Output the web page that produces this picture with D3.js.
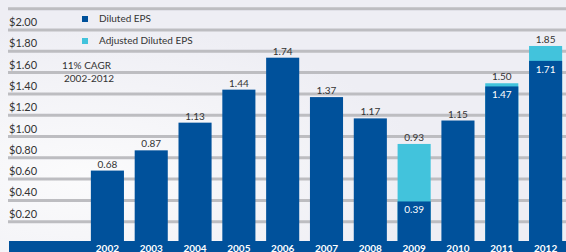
<!DOCTYPE html>
<html><head><meta charset="utf-8">
<script src="https://cdn.jsdelivr.net/npm/d3@7"></script>
<style>html,body{margin:0;padding:0;background:#efeff4;}svg{display:block;}</style>
</head><body><svg id="c" width="566" height="252"></svg>
<script>
const years = ["2002","2003","2004","2005","2006","2007","2008","2009","2010","2011","2012"];
const diluted = [0.68,0.87,1.13,1.44,1.74,1.37,1.17,0.39,1.15,1.47,1.71];
const adjusted = [null,null,null,null,null,null,null,0.93,null,1.50,1.85];
const yTicks = [0.2,0.4,0.6,0.8,1.0,1.2,1.4,1.6,1.8,2.0];
const gridVals = [0.2,0.4,0.6,0.8,1.0,1.2,1.4,1.6,1.8,2.0,2.2];
const legendLabels = ["Diluted EPS","Adjusted Diluted EPS"];
const noteLines = ["11% CAGR","2002-2012"];

const DARK="#00519b", CYAN="#42c3dc", FONT="'Lato','Open Sans',sans-serif";
const svg=d3.select("#c");
const defs=svg.append("defs");
const g1=defs.append("radialGradient").attr("id","bg").attr("cx","0.15").attr("cy","0.7").attr("r","0.6");
g1.append("stop").attr("offset","0").attr("stop-color","#fbfbfc");
g1.append("stop").attr("offset","1").attr("stop-color","#eeeef4");
svg.append("rect").attr("width",566).attr("height",252).attr("fill","url(#bg)");

const y=d3.scaleLinear().domain([0,2]).range([243,30]);
const x=d3.scaleBand().domain(years).range([85.5,567.5]).paddingInner(0.245).paddingOuter(0.1225);

svg.append("g").selectAll("line").data(gridVals).join("line")
 .attr("x1",8).attr("x2",566).attr("y1",d=>y(d)).attr("y2",d=>y(d))
 .attr("stroke","#bdbdc1").attr("stroke-width",3);

svg.append("g").selectAll("text").data(yTicks).join("text")
 .attr("x",9).attr("y",d=>y(d)-4).attr("font-family",FONT).attr("font-size",11).attr("fill","#333")
 .text(d=>"$"+d.toFixed(2));

// adjusted bars
const idx=years.map((d,i)=>i);
svg.append("g").selectAll("rect").data(idx.filter(i=>adjusted[i]!=null)).join("rect")
 .attr("x",i=>x(years[i])).attr("width",x.bandwidth())
 .attr("y",i=>y(adjusted[i])).attr("height",i=>y(0)-y(adjusted[i])).attr("fill",CYAN);
svg.append("g").selectAll("rect").data(idx).join("rect")
 .attr("x",i=>x(years[i])).attr("width",x.bandwidth())
 .attr("y",i=>y(diluted[i])).attr("height",i=>y(0)-y(diluted[i])).attr("fill",DARK);

// top labels
svg.append("g").selectAll("text").data(idx).join("text")
 .attr("x",i=>x(years[i])+x.bandwidth()/2)
 .attr("y",i=>y(adjusted[i]!=null?adjusted[i]:diluted[i])-3)
 .attr("text-anchor","middle").attr("font-family",FONT).attr("font-size",10).attr("fill","#333")
 .text(i=>(adjusted[i]!=null?adjusted[i]:diluted[i]).toFixed(2));
svg.append("g").selectAll("text").data(idx.filter(i=>adjusted[i]!=null)).join("text")
 .attr("x",i=>x(years[i])+x.bandwidth()/2).attr("y",i=>y(diluted[i])+12)
 .attr("text-anchor","middle").attr("font-family",FONT).attr("font-size",10).attr("fill","#fff")
 .text(i=>diluted[i].toFixed(2));

// bottom band
svg.append("rect").attr("x",9).attr("y",241).attr("width",557).attr("height",11).attr("fill",DARK);
svg.append("g").selectAll("text").data(years).join("text")
 .attr("x",d=>x(d)+x.bandwidth()/2).attr("y",251.5).attr("text-anchor","middle")
 .attr("font-family",FONT).attr("font-size",10).attr("font-weight","bold").attr("fill","#fff").text(d=>d);

// legend
const lg=svg.append("g").selectAll("g").data(legendLabels).join("g")
 .attr("transform",(d,i)=>`translate(82,${16+i*22})`);
lg.append("rect").attr("width",6).attr("height",6).attr("fill",(d,i)=>i?CYAN:DARK);
lg.append("text").attr("x",17).attr("y",6).attr("font-family",FONT).attr("font-size",10).attr("fill","#333").text(d=>d);

svg.append("g").selectAll("text").data(noteLines).join("text")
 .attr("x",(d,i)=>i?64:62).attr("y",(d,i)=>69+i*13).attr("font-family",FONT).attr("font-size",10).attr("fill","#333").text(d=>d);
</script></body></html>
